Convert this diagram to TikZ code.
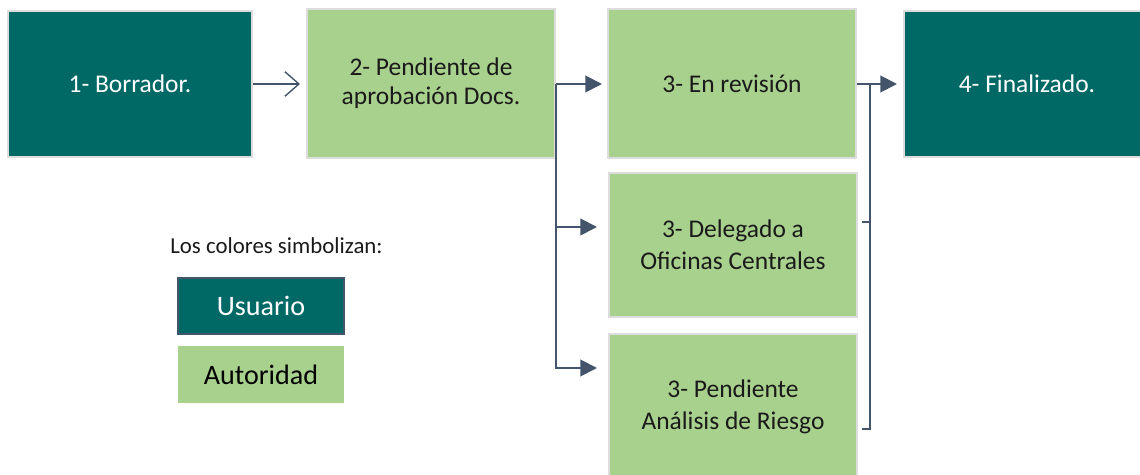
\documentclass[tikz,border=0pt]{standalone}
\usepackage{fontspec}
\setmainfont{Carlito}
\usetikzlibrary{arrows.meta}
\definecolor{teal1}{HTML}{006865}
\definecolor{green1}{HTML}{A9D18E}
\definecolor{edge1}{HTML}{DDDDDD}
\definecolor{line1}{HTML}{44546A}
\definecolor{txt1}{HTML}{1A1A1A}
\tikzset{
  box/.style={draw=edge1, line width=1.1pt, inner sep=0pt, align=center,
    font=\fontsize{14.5}{16.5}\selectfont},
  userbox/.style={box, fill=teal1, text=white},
  authbox/.style={box, fill=green1, text=txt1},
  tallbox/.style={authbox, font=\fontsize{14.5}{18.2}\selectfont},
  conn/.style={draw=line1, line width=1.1pt},
  arr/.style={conn, -{Triangle[length=9.5pt,width=9.5pt]}},
}
\begin{document}
\begin{tikzpicture}[x=0.02cm, y=-0.02cm]
\clip (0,0) rectangle (1140,475);
\fill[white] (0,0) rectangle (1140,475);
% main boxes
\node[userbox, minimum width=4.88cm, minimum height=2.92cm] (b1) at (130,84) {1- Borrador.};
\node[authbox, minimum width=4.96cm, minimum height=2.98cm] (b2) at (431,83.5) {2- Pendiente de\\aprobación Docs.};
\node[authbox, minimum width=4.96cm, minimum height=2.98cm] (b3) at (732,83.5) {3- En revisión};
\node[userbox, minimum width=4.92cm, minimum height=2.92cm] (b4) at (1027,84) {4- Finalizado.};
\node[tallbox, minimum width=4.96cm, minimum height=2.88cm] (b5) at (733,245) {3- Delegado a\\Oficinas Centrales};
\node[tallbox, minimum width=4.96cm, minimum height=2.92cm] (b6) at (733,407) {3- Pendiente\\Análisis de Riesgo};
% legend
\node[anchor=west, text=txt1, font=\fontsize{13}{15}\selectfont, inner sep=0pt] (lt) at (170,246) {Los colores simbolizan:};
\node[fill=teal1, draw=line1, line width=1.1pt, text=white, minimum width=3.32cm, minimum height=1.12cm, inner sep=0pt, font=\fontsize{16}{18}\selectfont] (lu) at (261,306) {Usuario};
\node[fill=green1, text=black, minimum width=3.32cm, minimum height=1.14cm, inner sep=0pt, font=\fontsize{16}{18}\selectfont] (la) at (261,374.5) {Autoridad};
% connectors
\coordinate (t2) at (300,84);
\draw[conn, line width=0.8pt, -{Straight Barb[length=8pt,width=14pt,line width=0.8pt]}] (b1.east |- t2) -- (t2);
\coordinate (t3) at (602,84);
\coordinate (t5) at (597,227);
\coordinate (t6) at (597,368);
\draw[arr] (b2.east |- t3) -- (t3);
\draw[arr] (b2.east |- t3) |- (t5);
\draw[arr] (b2.east |- t3) |- (t6);
\coordinate (m) at (870,84);
\coordinate (t4) at (897,84);
\coordinate (r5) at (862,222);
\coordinate (r6) at (862,429);
\draw[arr] (b3.east |- t4) -- (t4);
\draw[conn] (r6) -| (m);
\draw[conn] (r5) -- (r5 -| m);
\end{tikzpicture}
\end{document}
